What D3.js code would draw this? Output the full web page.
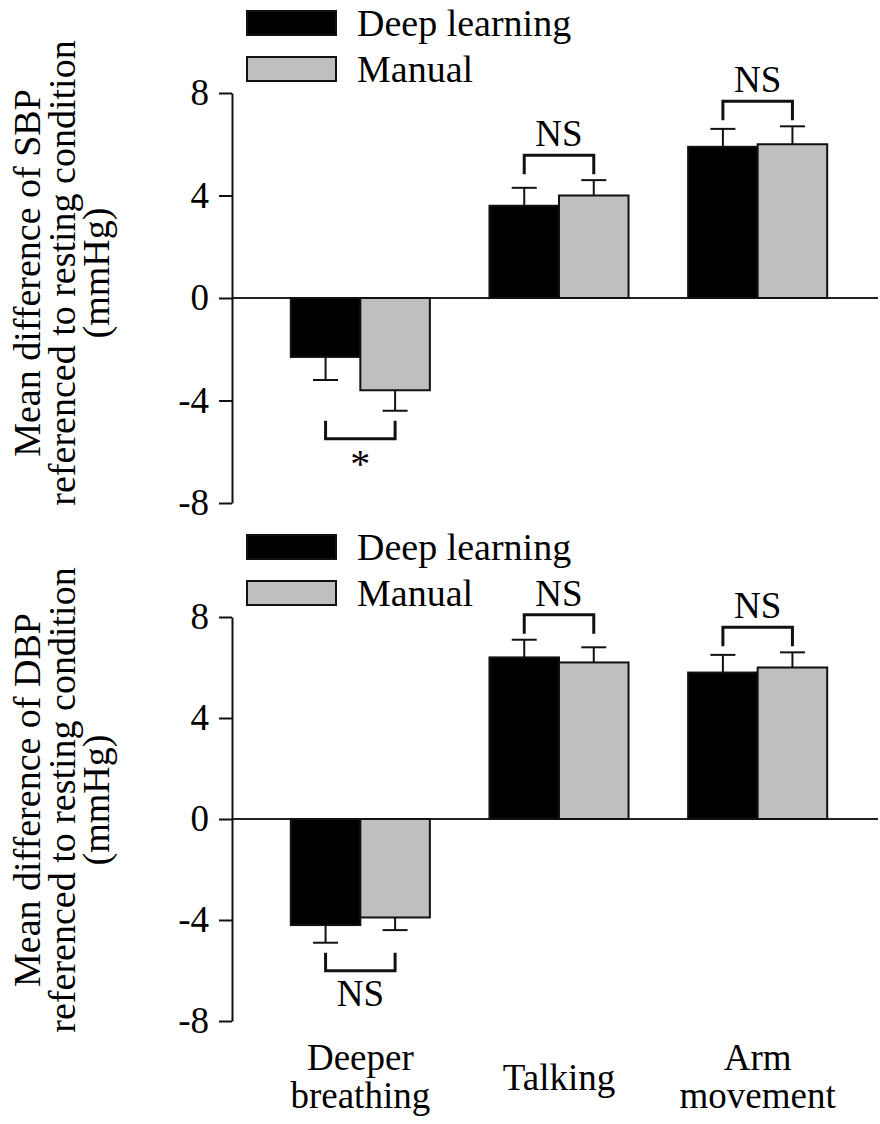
<!DOCTYPE html>
<html>
<head>
<meta charset="utf-8">
<script src="https://cdn.jsdelivr.net/npm/d3@7/dist/d3.min.js"></script>
<style>
  html, body { margin: 0; padding: 0; background: #fff; }
  svg { display: block; }
</style>
</head>
<body>
<svg id="chart" width="880" height="1124"></svg>
<script>
// Conditions on the x axis
const categories = ["Deeper breathing", "Talking", "Arm movement"];
const categoryLines = [["Deeper", "breathing"], ["Talking"], ["Arm", "movement"]];
const seriesNames = ["Deep learning", "Manual"];
const yTicks = [-8, -4, 0, 4, 8];

// Systolic blood pressure: mean difference and error (mmHg)
const sbpDeep = [-2.3, 3.6, 5.9];
const sbpDeepErr = [0.9, 0.7, 0.7];
const sbpManual = [-3.6, 4.0, 6.0];
const sbpManualErr = [0.8, 0.6, 0.7];
const sbpSignificance = ["*", "NS", "NS"];

// Diastolic blood pressure: mean difference and error (mmHg)
const dbpDeep = [-4.2, 6.4, 5.8];
const dbpDeepErr = [0.7, 0.7, 0.7];
const dbpManual = [-3.9, 6.2, 6.0];
const dbpManualErr = [0.5, 0.6, 0.6];
const dbpSignificance = ["NS", "NS", "NS"];

const sbpTitle = ["Mean difference of SBP", "referenced to resting condition", "(mmHg)"];
const dbpTitle = ["Mean difference of DBP", "referenced to resting condition", "(mmHg)"];

const FONT = 37;
const SERIF = "'Liberation Serif'";
const colors = { "Deep learning": "#000000", "Manual": "#bfbfbf" };

const svg = d3.select("#chart");

// Apply the serif face and size to a text selection
function serif(sel, size) {
  return sel.style("font-family", SERIF).style("font-size", size + "px").style("fill", "#000");
}

const axisX = 232;
const x0 = d3.scaleBand().domain(categories).range([261, 857]).paddingInner(0.3).paddingOuter(0.15);
const x1 = d3.scaleBand().domain(seriesNames).range([0, x0.bandwidth()]).padding(0);

function buildRows(deep, deepErr, manual, manualErr) {
  return categories.map((c, i) => ({
    category: c,
    bars: [
      { series: "Deep learning", value: deep[i], err: deepErr[i] },
      { series: "Manual", value: manual[i], err: manualErr[i] }
    ]
  }));
}

function drawPanel(opts) {
  const { rows, sig, title, yRange, titleCenter } = opts;
  const y = d3.scaleLinear().domain([-8, 8]).range(yRange);
  const g = svg.append("g");

  // Legend
  const legendTop = y(8);
  seriesNames.forEach((s, i) => {
    const sy = legendTop - 82 + i * 46;
    g.append("rect")
      .attr("x", 247).attr("y", sy)
      .attr("width", 89).attr("height", 24)
      .attr("fill", colors[s]).attr("stroke", "#111").attr("stroke-width", 2);
    serif(g.append("text")
      .attr("x", 357).attr("y", sy + 25), 38)
      .text(s);
  });

  // Zero reference line
  g.append("line")
    .attr("x1", axisX).attr("x2", 878)
    .attr("y1", y(0)).attr("y2", y(0))
    .attr("stroke", "#222").attr("stroke-width", 2);

  // Bars
  const groups = g.selectAll("g.cat").data(rows).join("g")
    .attr("class", "cat")
    .attr("transform", d => `translate(${x0(d.category)},0)`);

  groups.selectAll("rect").data(d => d.bars).join("rect")
    .attr("x", d => x1(d.series))
    .attr("y", d => Math.min(y(d.value), y(0)))
    .attr("width", x1.bandwidth())
    .attr("height", d => Math.abs(y(d.value) - y(0)))
    .attr("fill", d => colors[d.series])
    .attr("stroke", "#111").attr("stroke-width", 2);

  // Error bars (one-sided, away from zero)
  const capHalf = 12.5;
  groups.each(function(d) {
    const gg = d3.select(this);
    d.bars.forEach(b => {
      const cx = x1(b.series) + x1.bandwidth() / 2;
      const end = b.value >= 0 ? b.value + b.err : b.value - b.err;
      gg.append("line")
        .attr("x1", cx).attr("x2", cx)
        .attr("y1", y(b.value)).attr("y2", y(end))
        .attr("stroke", "#111").attr("stroke-width", 2);
      gg.append("line")
        .attr("x1", cx - capHalf).attr("x2", cx + capHalf)
        .attr("y1", y(end)).attr("y2", y(end))
        .attr("stroke", "#111").attr("stroke-width", 2);
    });
  });

  // Significance brackets
  rows.forEach((d, i) => {
    const xa = x0(d.category) + x1("Deep learning") + x1.bandwidth() / 2;
    const xb = x0(d.category) + x1("Manual") + x1.bandwidth() / 2;
    const xm = (xa + xb) / 2;
    const negative = d.bars[0].value < 0;
    const ends = d.bars.map(b => b.value >= 0 ? b.value + b.err : b.value - b.err);
    let path, textY, size = FONT;
    if (negative) {
      const lo = y(d3.min(ends));
      const legStart = lo + 10;
      const bar = legStart + 18;
      path = `M${xa},${legStart}V${bar}H${xb}V${legStart}`;
      if (sig[i] === "*") { size = 40; textY = bar + 38; } else { textY = bar + 35; }
    } else {
      const hi = y(d3.max(ends));
      const legStart = hi - 6;
      const bar = legStart - 19;
      path = `M${xa},${legStart}V${bar}H${xb}V${legStart}`;
      textY = bar - 9;
    }
    g.append("path").attr("d", path)
      .attr("fill", "none").attr("stroke", "#111").attr("stroke-width", 3);
    serif(g.append("text")
      .attr("x", xm).attr("y", textY)
      .attr("text-anchor", "middle"), size)
      .text(sig[i]);
  });

  // Y axis
  const axis = g.append("g")
    .attr("transform", `translate(${axisX},0)`)
    .call(d3.axisLeft(y).tickValues(yTicks).tickSize(13).tickSizeOuter(0).tickPadding(10).tickFormat(d => String(d)));
  axis.select(".domain").attr("stroke", "#111").attr("stroke-width", 2);
  axis.selectAll(".tick line").attr("stroke", "#111").attr("stroke-width", 2);
  serif(axis.selectAll(".tick text"), FONT);

  // Y axis title
  const tt = serif(g.append("text")
    .attr("transform", `translate(0,${titleCenter}) rotate(-90)`)
    .attr("text-anchor", "middle"), 38);
  title.forEach((line, k) => {
    tt.append("tspan").attr("x", 0).attr("y", 40 + k * 34.5).text(line);
  });

  return y;
}

drawPanel({
  rows: buildRows(sbpDeep, sbpDeepErr, sbpManual, sbpManualErr),
  sig: sbpSignificance,
  title: sbpTitle,
  yRange: [503, 93],
  titleCenter: 273
});

drawPanel({
  rows: buildRows(dbpDeep, dbpDeepErr, dbpManual, dbpManualErr),
  sig: dbpSignificance,
  title: dbpTitle,
  yRange: [1021, 617],
  titleCenter: 800
});

// Category labels under the lower panel
categories.forEach((c, i) => {
  const cx = x0(c) + x0.bandwidth() / 2;
  const lines = categoryLines[i];
  const t = serif(svg.append("text")
    .attr("text-anchor", "middle"), FONT);
  if (lines.length === 1) {
    t.append("tspan").attr("x", cx).attr("y", 1090).text(lines[0]);
  } else {
    lines.forEach((l, k) => t.append("tspan").attr("x", cx).attr("y", 1070 + k * 38).text(l));
  }
});
</script>
</body>
</html>
